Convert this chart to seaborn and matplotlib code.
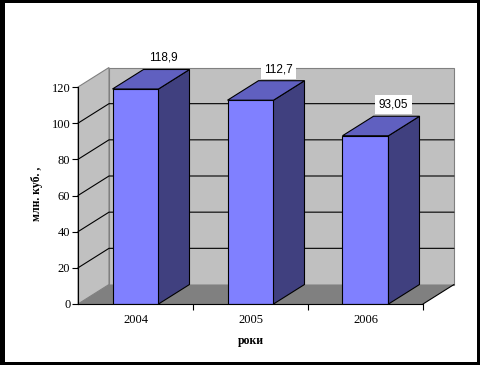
import numpy as np
import pandas as pd
import matplotlib
matplotlib.use("Agg")
import matplotlib.pyplot as plt
import seaborn as sns
from matplotlib.patches import Polygon, Rectangle

# data
years = ["2004", "2005", "2006"]
volumes = [118.9, 112.7, 93.05]
value_labels = ["118,9", "112,7", "93,05"]
y_ticks = [0, 20, 40, 60, 80, 100, 120]

# 3d look: depth of the chart in data units
DX = 31 / 115
DY = 19.5 * 120 / 217

sns.set_theme(style="white")
plt.rcParams["font.family"] = ["Liberation Serif", "DejaVu Serif"]
plt.rcParams["text.color"] = "black"
plt.rcParams["axes.labelcolor"] = "black"
plt.rcParams["xtick.color"] = "black"
plt.rcParams["ytick.color"] = "black"

fig = plt.figure(figsize=(4.81, 3.65), dpi=100)
fig.patch.set_facecolor("white")
ax = fig.add_axes([78 / 481, 61 / 365, 345 / 481, 217 / 365])
ax.set_facecolor("none")

df = pd.DataFrame({"year": years, "volume": volumes})
sns.barplot(data=df, x="year", y="volume", color="#8080ff", saturation=1,
            width=0.4, edgecolor="black", linewidth=0.8, ax=ax, zorder=5)

ax.set_xlim(-0.5, 2.5)
ax.set_ylim(0, 120)
x0, x1 = ax.get_xlim()
y0, y1 = ax.get_ylim()

# walls and floor
back = Rectangle((x0 + DX, y0 + DY), x1 - x0, y1 - y0, facecolor="#c0c0c0",
                 edgecolor="#808080", linewidth=0.8, clip_on=False, zorder=0)
ax.add_patch(back)
side = Polygon([(x0, y0), (x0, y1), (x0 + DX, y1 + DY), (x0 + DX, y0 + DY)],
               facecolor="#c0c0c0", edgecolor="#808080", linewidth=0.8,
               clip_on=False, zorder=0)
ax.add_patch(side)
floor = Polygon([(x0, y0), (x1, y0), (x1 + DX, y0 + DY), (x0 + DX, y0 + DY)],
                facecolor="#808080", edgecolor="none", clip_on=False, zorder=1)
ax.add_patch(floor)
ax.plot([x1, x1 + DX], [y0, y0 + DY], color="black", lw=0.8, clip_on=False, zorder=2)

# gridlines on the walls
for t in y_ticks[1:-1]:
    ax.plot([x0, x0 + DX, x1 + DX], [t, t + DY, t + DY], color="black",
            lw=0.8, clip_on=False, zorder=1)

# bar sides and tops
bars = list(ax.patches)
for p in bars:
    if not isinstance(p, Rectangle) or p is back:
        continue
    bx = p.get_x()
    w = p.get_width()
    h = p.get_height()
    ax.add_patch(Polygon([(bx + w, 0), (bx + w, h), (bx + w + DX, h + DY), (bx + w + DX, DY)],
                         facecolor="#40407f", edgecolor="black", linewidth=0.8,
                         clip_on=False, zorder=5))
    ax.add_patch(Polygon([(bx, h), (bx + w, h), (bx + w + DX, h + DY), (bx + DX, h + DY)],
                         facecolor="#6060c0", edgecolor="black", linewidth=0.8,
                         clip_on=False, zorder=5))

# value labels
for i, (v, lbl) in enumerate(zip(volumes, value_labels)):
    ax.annotate(lbl, (i, v), xytext=(28, 31), textcoords="offset pixels",
                ha="center", va="center", fontsize=8.5, family=["Liberation Sans"],
                color="black",
                bbox=dict(facecolor="white", edgecolor="none", pad=2.5),
                annotation_clip=False, zorder=10)

# axes styling
for s in ["top", "right"]:
    ax.spines[s].set_visible(False)
for s in ["left", "bottom"]:
    ax.spines[s].set_color("black")
    ax.spines[s].set_linewidth(0.8)
    ax.spines[s].set_zorder(6)

ax.set_yticks(y_ticks)
ax.set_xticks([0.5, 1.5, 2.5], minor=True)
ax.tick_params(axis="y", left=True, length=4, width=0.8, color="black",
               labelsize=9, pad=1.5)
ax.tick_params(axis="x", which="major", length=0, labelsize=9, pad=7)
ax.tick_params(axis="x", which="minor", bottom=True, length=4, width=0.8, color="black")

ax.set_xlabel("роки", fontsize=8.5, fontweight="bold")
ax.set_ylabel("млн. куб. ,", fontsize=8.5, fontweight="bold")
ax.xaxis.set_label_coords(0.5, -0.17)
ax.xaxis.label.set_va("center")
ax.yaxis.set_label_coords(-0.119, 0.51)
ax.yaxis.label.set_va("center")

# black frame around the picture
for rect in [(0, 0, 5 / 481, 1), (0, 1 - 3 / 365, 1, 3 / 365),
             (1 - 4 / 481, 0, 4 / 481, 1), (0, 0, 1, 3 / 365)]:
    fig.add_artist(Rectangle(rect[:2], rect[2], rect[3], transform=fig.transFigure,
                             facecolor="black", edgecolor="none"))

fig.savefig("out.png", dpi=100)
